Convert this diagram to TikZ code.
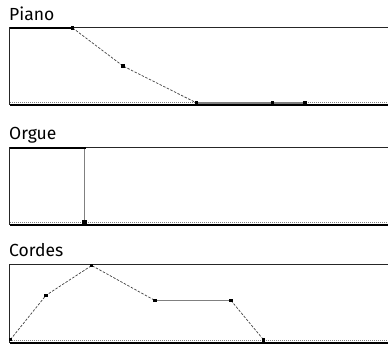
\documentclass[tikz,border=0pt]{standalone}
\usepackage{fontspec}
\setmainfont{Fira Sans}
\usetikzlibrary{positioning}
\tikzset{
  frame/.style={line width=1.3pt, black!85},
  base/.style={line width=2pt, black},
  floor/.style={gray, densely dotted, line width=1pt},
  hold/.style={line width=2.6pt, black},
  ramp/.style={dash pattern=on 2.5pt off 1.5pt, line width=0.7pt, black!75},
  flat/.style={line width=1.5pt, gray},
  knot/.style={fill=black, inner sep=0pt, minimum size=3.5pt},
  title/.style={anchor=base west, inner sep=0pt, font=\fontsize{17.5}{20}\selectfont}
}

\begin{document}
\begin{tikzpicture}[x=1pt, y=-1pt]
  \useasboundingbox (0,0) rectangle (388,345);
  % frames: top, left, dotted floor, bottom
  \foreach \t/\b in {27.5/105, 147.5/224.5, 264.5/342.5} {
    \draw[floor] (10,\b-2.5) -- (388,\b-2.5);
    \draw[frame] (388,\t) -- (9.5,\t) -- (9.5,\b);
    \draw[base] (9.5,\b) -- (388,\b);
  }
  % titles
  \node[title] (piano) at (9,20.5) {Piano};
  \node[title] (orgue) at (9,139.5) {Orgue};
  \node[title] (cordes) at (9,256.8) {Cordes};

  % Piano envelope
  \coordinate (p0) at (10,28);
  \coordinate (p1) at (72.7,28);
  \coordinate (p2) at (123,66);
  \coordinate (p3) at (196.7,103);
  \coordinate (p4) at (272.7,103);
  \coordinate (p5) at (305,103);
  \draw[hold] (p0) -- (p1);
  \draw[ramp] (p1) -- (p2) -- (p3);
  \draw[flat] (p3) -- (p4) -- (p5);
  \foreach \c in {p1,p2,p3,p4,p5}
    \node[knot] (k-\c) at (\c) {};

  % Orgue envelope
  \coordinate (o0) at (9.5,148);
  \coordinate (o1) at (84.7,148);
  \coordinate (o2) at (84.7,222.5);
  \draw[hold] (o0) -- (o1);
  \draw[flat, line width=1.2pt] (o1) -- (o2);
  \node[knot, minimum size=2.5pt] (k-o1) at (o1) {};
  \node[knot, minimum size=4.5pt] (k-o2) at (o2) {};

  % Cordes envelope
  \coordinate (c0) at (10.5,339.5);
  \coordinate (c1) at (46,295.3);
  \coordinate (c2) at (91.7,265.5);
  \coordinate (c3) at (155,300.5);
  \coordinate (c4) at (231,300.5);
  \coordinate (c5) at (263.7,340);
  \draw[ramp] (c0) -- (c1) -- (c2) -- (c3);
  \draw[flat] (c3) -- (c4);
  \draw[ramp] (c4) -- (c5);
  \foreach \c in {c0,c1,c2,c3,c4,c5}
    \node[knot] (k-\c) at (\c) {};
\end{tikzpicture}
\end{document}
